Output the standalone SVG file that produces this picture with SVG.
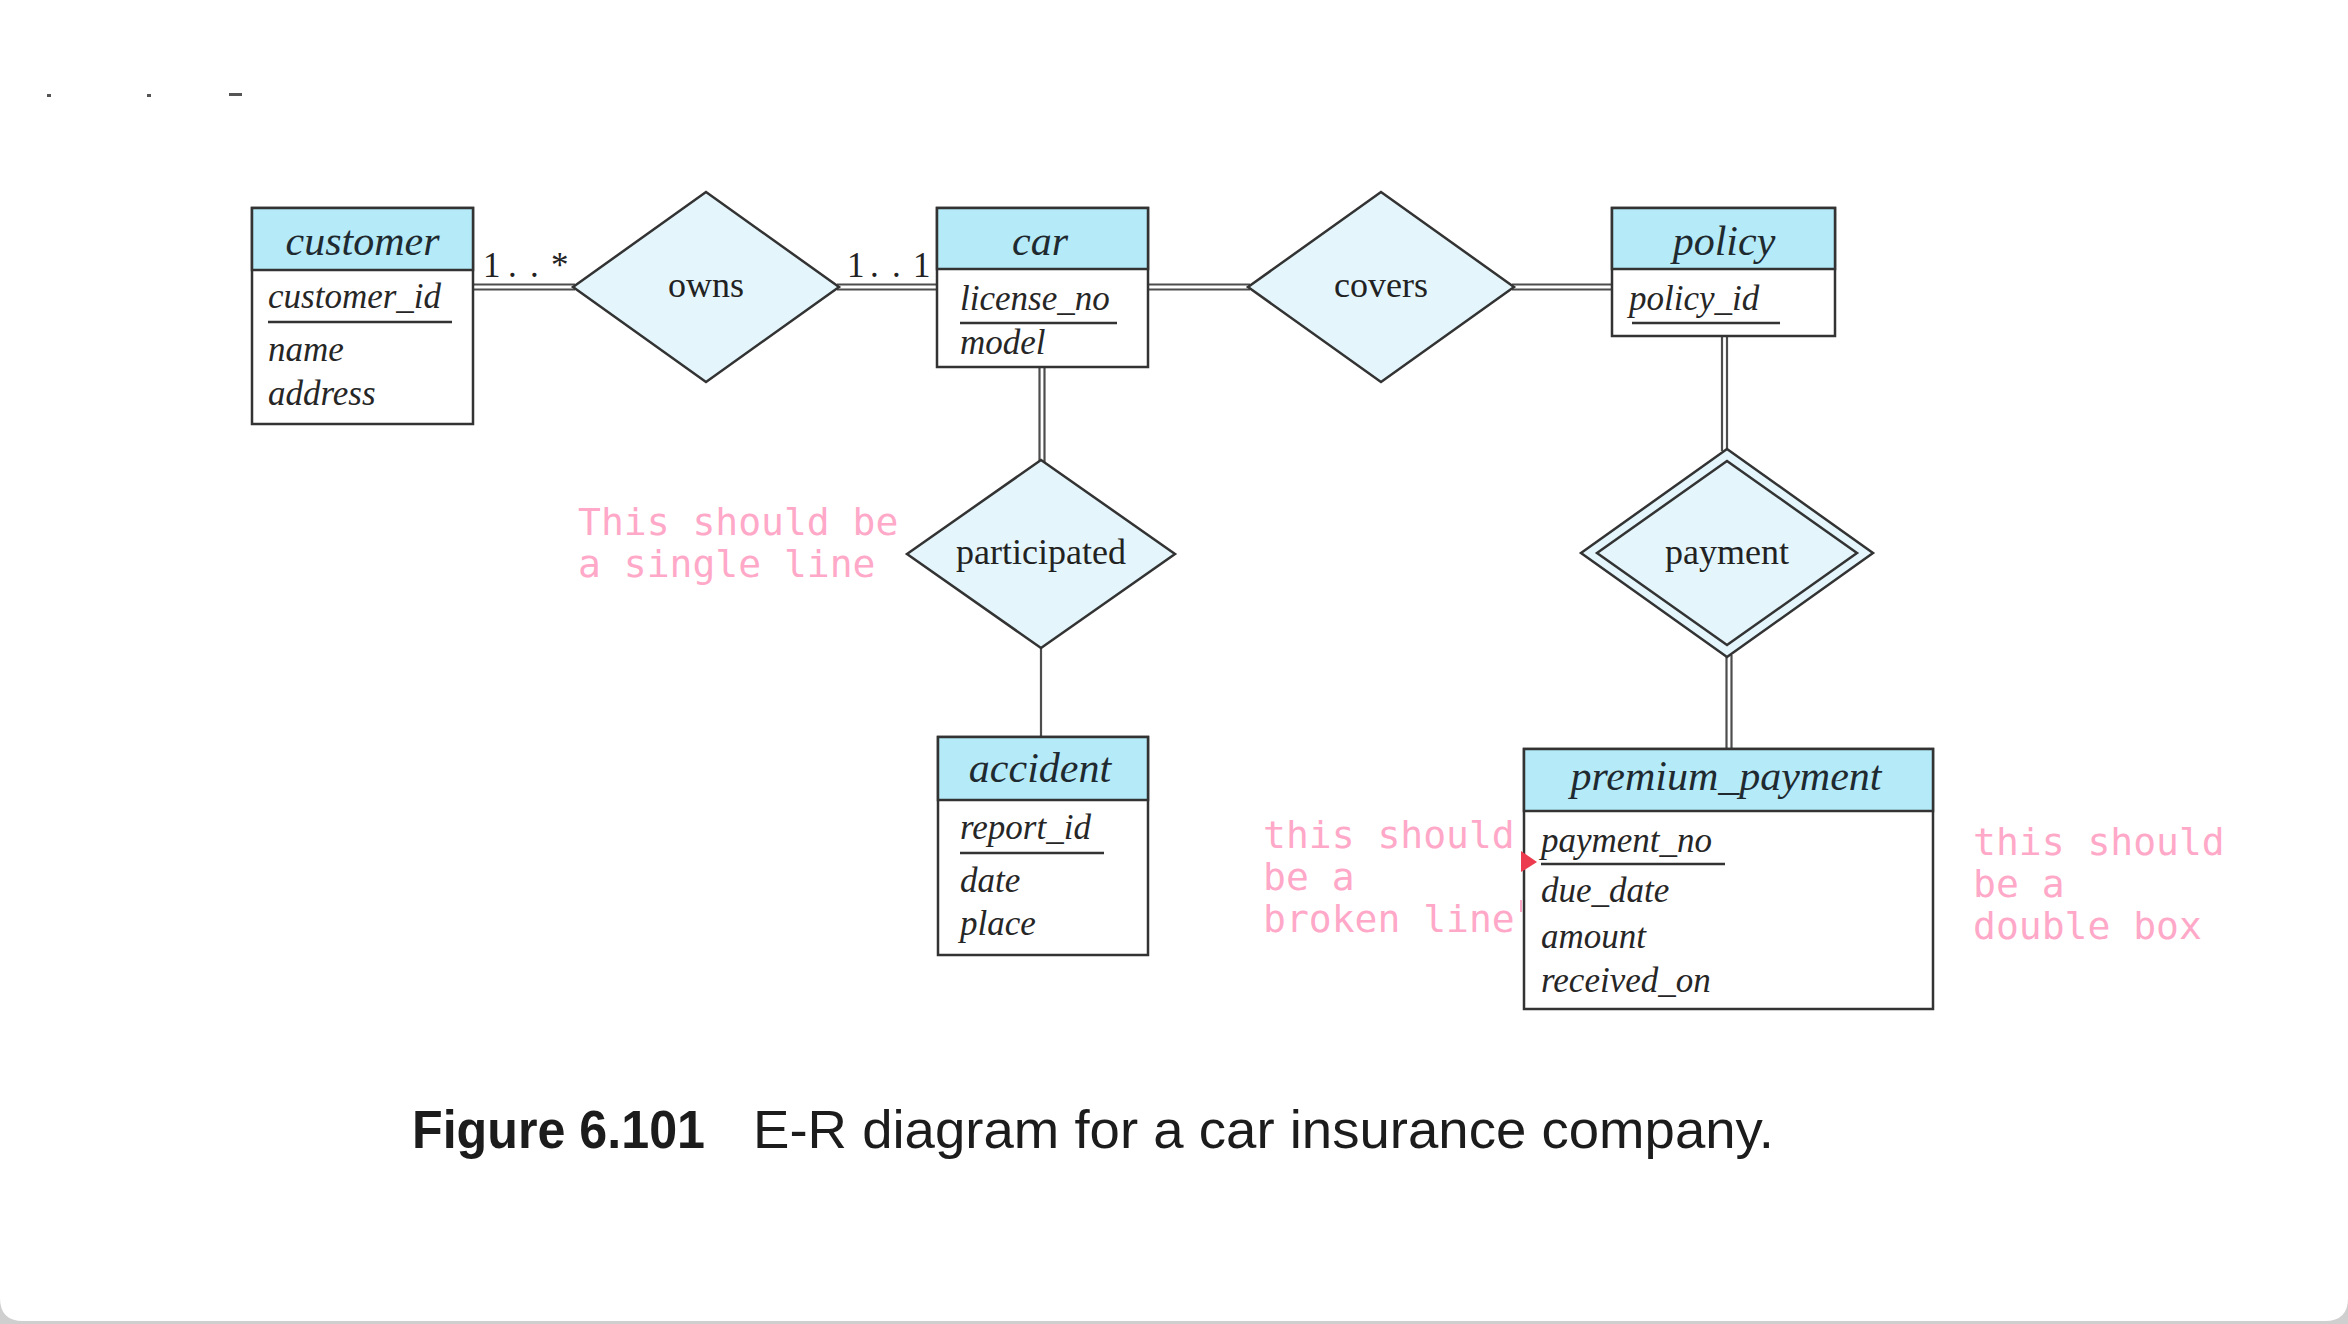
<svg xmlns="http://www.w3.org/2000/svg" width="2348" height="1324" viewBox="0 0 2348 1324">
<style>
.box{fill:#ffffff;stroke:#333;stroke-width:2.5}
.hdr{fill:#b5eaf8;stroke:#333;stroke-width:2.5}
.dia{fill:#e4f6fc;stroke:#333;stroke-width:2.5;stroke-linejoin:miter}
.dia2{fill:none;stroke:#333;stroke-width:2.5}
.title{font-family:"Liberation Serif",serif;font-style:italic;font-size:42px;fill:#1f2a30;text-anchor:middle}
.attr{font-family:"Liberation Serif",serif;font-style:italic;font-size:35px;fill:#262626}
.rel{font-family:"Liberation Serif",serif;font-size:36px;fill:#222;text-anchor:middle}
.card{font-family:"Liberation Serif",serif;font-size:35px;fill:#222}
.ul{stroke:#333;stroke-width:2.5}
.ln{stroke:#4d4d4d;stroke-width:2.2;fill:none}
.note{font-family:"DejaVu Sans Mono",monospace;font-size:38px;fill:#ffa8c8}
.cap{font-family:"Liberation Sans",sans-serif;font-size:53px;fill:#1c1c1c}
</style>
<rect x="0" y="0" width="2348" height="1324" fill="#cfcfcf"/>
<path d="M0,0 H2348 V1298 Q2348,1321 2325,1321 H23 Q0,1321 0,1298 Z" fill="#ffffff"/>
<g id="marks" fill="#555">
<rect x="47" y="94" width="4" height="3"/>
<rect x="147" y="94" width="4" height="3"/>
<rect x="229" y="93" width="13" height="3"/>
</g>
<g id="connectors">
<line class="ln" x1="473" y1="284.5" x2="575" y2="284.5"/>
<line class="ln" x1="473" y1="289.5" x2="575" y2="289.5"/>
<line class="ln" x1="837" y1="284.5" x2="937" y2="284.5"/>
<line class="ln" x1="837" y1="289.5" x2="937" y2="289.5"/>
<line class="ln" x1="1148" y1="284.5" x2="1250" y2="284.5"/>
<line class="ln" x1="1148" y1="289.5" x2="1250" y2="289.5"/>
<line class="ln" x1="1512" y1="284.5" x2="1612" y2="284.5"/>
<line class="ln" x1="1512" y1="289.5" x2="1612" y2="289.5"/>
<line class="ln" x1="1039.5" y1="367" x2="1039.5" y2="462"/>
<line class="ln" x1="1044.5" y1="367" x2="1044.5" y2="462"/>
<line class="ln" x1="1041" y1="648" x2="1041" y2="737"/>
<line class="ln" x1="1722" y1="336" x2="1722" y2="451"/>
<line class="ln" x1="1727" y1="336" x2="1727" y2="451"/>
<line class="ln" x1="1726.5" y1="655" x2="1726.5" y2="749"/>
<line class="ln" x1="1731.5" y1="655" x2="1731.5" y2="749"/>
<text class="card" x="483 508 530 551" y="277">1..*</text>
<text class="card" x="847 870 892 913" y="277">1..1</text>
</g>
<g id="customer">
<rect class="box" x="252" y="208" width="221" height="216"/>
<rect class="hdr" x="252" y="208" width="221" height="62"/>
<text class="title" x="362.5" y="255">customer</text>
<text class="attr" x="268" y="308">customer_id</text>
<line class="ul" x1="268" y1="322" x2="452" y2="322"/>
<text class="attr" x="268" y="361">name</text>
<text class="attr" x="268" y="405">address</text>
</g>
<g id="owns">
<polygon class="dia" points="573,287 706,192 839,287 706,382"/>
<text class="rel" x="706" y="297">owns</text>
</g>
<g id="car">
<rect class="box" x="937" y="208" width="211" height="159"/>
<rect class="hdr" x="937" y="208" width="211" height="61"/>
<text class="title" x="1040" y="255">car</text>
<text class="attr" x="960" y="310">license_no</text>
<line class="ul" x1="960" y1="323" x2="1117" y2="323"/>
<text class="attr" x="960" y="354">model</text>
</g>
<g id="covers">
<polygon class="dia" points="1248,287 1381,192 1514,287 1381,382"/>
<text class="rel" x="1381" y="297">covers</text>
</g>
<g id="policy">
<rect class="box" x="1612" y="208" width="223" height="128"/>
<rect class="hdr" x="1612" y="208" width="223" height="61"/>
<text class="title" x="1724" y="255">policy</text>
<text class="attr" x="1629" y="310">policy_id</text>
<line class="ul" x1="1632" y1="323" x2="1780" y2="323"/>
</g>
<g id="participated">
<polygon class="dia" points="907,554 1041,460 1175,554 1041,648"/>
<text class="rel" x="1041" y="564">participated</text>
</g>
<g id="payment">
<polygon class="dia" points="1581,553 1727,449 1873,553 1727,657"/>
<polygon class="dia2" points="1597,553 1727,461 1857,553 1727,645"/>
<text class="rel" x="1727" y="564">payment</text>
</g>
<g id="accident">
<rect class="box" x="938" y="737" width="210" height="218"/>
<rect class="hdr" x="938" y="737" width="210" height="63"/>
<text class="title" x="1040" y="782">accident</text>
<text class="attr" x="960" y="839">report_id</text>
<line class="ul" x1="960" y1="853" x2="1104" y2="853"/>
<text class="attr" x="960" y="892">date</text>
<text class="attr" x="960" y="935">place</text>
</g>
<g id="premium_payment">
<rect class="box" x="1524" y="749" width="409" height="260"/>
<rect class="hdr" x="1524" y="749" width="409" height="62"/>
<text class="title" x="1726" y="790">premium_payment</text>
<text class="attr" x="1541" y="852">payment_no</text>
<line class="ul" x1="1541" y1="864" x2="1725" y2="864"/>
<text class="attr" x="1541" y="902">due_date</text>
<text class="attr" x="1541" y="948">amount</text>
<text class="attr" x="1541" y="992">received_on</text>
</g>
<g id="annotations">
<text class="note" x="578" y="535">This should be</text>
<text class="note" x="578" y="577">a single line</text>
<text class="note" x="1263" y="848">this should</text>
<text class="note" x="1263" y="890">be a</text>
<text class="note" x="1263" y="932">broken line</text>
<text class="note" x="1973" y="855">this should</text>
<text class="note" x="1973" y="897">be a</text>
<text class="note" x="1973" y="939">double box</text>
<polygon points="1521,851 1537,862 1521,872" fill="#ec3b4f"/>
<line x1="1521" y1="900" x2="1521" y2="912" stroke="#ffa8c8" stroke-width="2"/>
</g>
<g id="caption">
<text class="cap" x="412" y="1148" font-weight="bold" textLength="293" lengthAdjust="spacingAndGlyphs">Figure 6.101</text>
<text class="cap" x="753" y="1148" textLength="1021" lengthAdjust="spacingAndGlyphs">E-R diagram for a car insurance company.</text>
</g>
</svg>
